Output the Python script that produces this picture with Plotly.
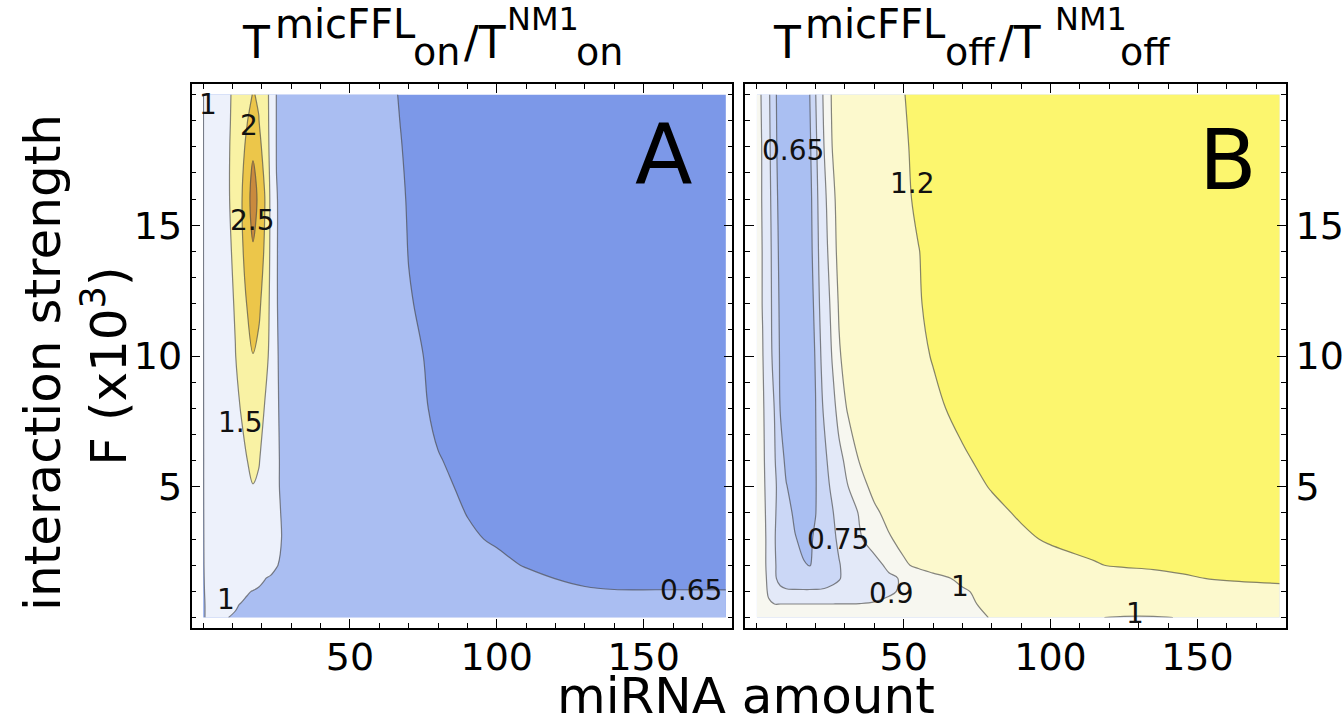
import plotly.graph_objects as go

# ---------------- Panel A: T_on(micFFL) / T_on(NM1) ----------------
mirna_on = [0, 2, 5, 8, 11, 13, 15, 17, 19, 21, 23, 25, 27, 30,
            45, 60, 70, 80, 90, 100, 110, 120, 130, 140, 155, 178]
strength_on = [0, 0.5, 1, 1.5, 2, 3, 4, 5, 6, 8, 10, 12, 14, 16, 18, 19, 20]
ratio_on = [
    [0.995, 1.01, 1.02, 1.003, 0.99, 0.98, 0.97, 0.96, 0.955, 0.95, 0.945, 0.94, 0.935, 0.93,
     0.9, 0.89, 0.88, 0.86, 0.84, 0.82, 0.8, 0.78, 0.76, 0.75, 0.74, 0.74],
    [0.99, 1.02, 1.03, 1.03, 1.01, 0.995, 0.98, 0.97, 0.96, 0.955, 0.95, 0.945, 0.94, 0.93,
     0.9, 0.88, 0.87, 0.85, 0.82, 0.8, 0.78, 0.75, 0.72, 0.71, 0.7, 0.7],
    [0.99, 1.03, 1.05, 1.06, 1.05, 1.03, 1.01, 0.995, 0.98, 0.97, 0.96, 0.95, 0.94, 0.93,
     0.9, 0.88, 0.86, 0.83, 0.8, 0.77, 0.74, 0.7, 0.662, 0.655, 0.655, 0.655],
    [0.99, 1.04, 1.07, 1.1, 1.12, 1.12, 1.1, 1.07, 1.04, 1.005, 0.98, 0.96, 0.95, 0.93,
     0.89, 0.87, 0.84, 0.81, 0.77, 0.73, 0.69, 0.648, 0.63, 0.62, 0.615, 0.61],
    [0.99, 1.05, 1.09, 1.13, 1.16, 1.18, 1.2, 1.2, 1.17, 1.12, 1.07, 1.01, 0.97, 0.94,
     0.89, 0.86, 0.83, 0.79, 0.74, 0.69, 0.64, 0.62, 0.61, 0.605, 0.6, 0.59],
    [0.99, 1.06, 1.11, 1.17, 1.22, 1.26, 1.3, 1.31, 1.28, 1.22, 1.13, 1.06, 0.99, 0.94,
     0.88, 0.84, 0.8, 0.75, 0.675, 0.63, 0.615, 0.605, 0.6, 0.595, 0.59, 0.58],
    [0.99, 1.07, 1.13, 1.2, 1.27, 1.32, 1.37, 1.4, 1.37, 1.29, 1.17, 1.05, 0.98, 0.93,
     0.87, 0.82, 0.77, 0.71, 0.645, 0.625, 0.61, 0.6, 0.59, 0.585, 0.58, 0.57],
    [0.99, 1.08, 1.15, 1.22, 1.3, 1.37, 1.44, 1.49, 1.45, 1.33, 1.19, 1.04, 0.96, 0.92,
     0.86, 0.8, 0.74, 0.68, 0.625, 0.61, 0.595, 0.585, 0.58, 0.575, 0.57, 0.56],
    [0.99, 1.08, 1.16, 1.24, 1.32, 1.4, 1.495, 1.58, 1.52, 1.38, 1.22, 1.04, 0.96, 0.92,
     0.85, 0.78, 0.72, 0.655, 0.625, 0.6, 0.585, 0.575, 0.57, 0.565, 0.56, 0.55],
    [0.99, 1.09, 1.18, 1.29, 1.41, 1.52, 1.65, 1.75, 1.68, 1.48, 1.3, 1.03, 0.95, 0.92,
     0.84, 0.76, 0.69, 0.63, 0.6, 0.585, 0.575, 0.565, 0.56, 0.555, 0.55, 0.54],
    [0.99, 1.1, 1.21, 1.33, 1.49, 1.65, 1.85, 1.99, 1.9, 1.68, 1.38, 1.02, 0.95, 0.92,
     0.83, 0.74, 0.67, 0.63, 0.6, 0.585, 0.575, 0.565, 0.56, 0.555, 0.55, 0.54],
    [0.99, 1.11, 1.23, 1.37, 1.53, 1.75, 2.02, 2.2, 2.08, 1.82, 1.4, 1.01, 0.95, 0.92,
     0.82, 0.72, 0.655, 0.625, 0.6, 0.585, 0.575, 0.565, 0.56, 0.555, 0.55, 0.54],
    [0.99, 1.12, 1.25, 1.4, 1.58, 1.9, 2.2, 2.45, 2.25, 1.95, 1.42, 1.01, 0.95, 0.92,
     0.81, 0.71, 0.648, 0.62, 0.6, 0.585, 0.575, 0.565, 0.56, 0.555, 0.55, 0.54],
    [0.99, 1.12, 1.26, 1.43, 1.63, 1.95, 2.3, 2.72, 2.4, 2.02, 1.42, 1.01, 0.95, 0.92,
     0.81, 0.695, 0.645, 0.62, 0.6, 0.585, 0.575, 0.565, 0.56, 0.555, 0.55, 0.54],
    [0.99, 1.12, 1.26, 1.43, 1.62, 1.85, 2.1, 2.42, 2.15, 1.8, 1.38, 0.99, 0.95, 0.92,
     0.8, 0.685, 0.64, 0.615, 0.595, 0.58, 0.57, 0.56, 0.555, 0.55, 0.545, 0.535],
    [0.99, 1.12, 1.25, 1.42, 1.6, 1.78, 1.98, 2.2, 2.01, 1.76, 1.37, 0.99, 0.95, 0.92,
     0.8, 0.68, 0.637, 0.612, 0.59, 0.575, 0.565, 0.555, 0.55, 0.545, 0.54, 0.53],
    [0.99, 1.12, 1.25, 1.42, 1.58, 1.7, 1.85, 2.02, 1.96, 1.75, 1.36, 0.99, 0.95, 0.92,
     0.8, 0.675, 0.635, 0.61, 0.59, 0.575, 0.565, 0.555, 0.55, 0.545, 0.54, 0.53],
]
levels_on = [0.65, 1, 1.5, 2, 2.5]
colors_on = ["#7c98e8", "#aabef2", "#edf1fb", "#f9f2a4", "#ecc64a", "#c98a3e"]

# ---------------- Panel B: T_off(micFFL) / T_off(NM1) ----------------
mirna_off = [0, 2, 4, 6, 8, 10, 13, 16, 18, 20, 22, 24, 26, 28, 31, 35,
             40, 45, 50, 55, 60, 70, 80, 90, 100, 115, 125, 135, 145, 160, 178]
strength_off = [0, 0.5, 1, 1.5, 2, 3, 4, 5, 6, 8, 10, 12, 14, 16, 18, 20]
ratio_off = [
    [0.95, 0.94, 0.93, 0.925, 0.925, 0.925, 0.925, 0.925, 0.925, 0.925, 0.925, 0.925, 0.925, 0.925, 0.925, 0.925,
     0.93, 0.935, 0.945, 0.955, 0.965, 0.985, 1.002, 1.008, 1.006, 1.001, 0.998, 0.998, 1.001, 1.01, 1.03],
    [0.95, 0.935, 0.91, 0.905, 0.905, 0.905, 0.905, 0.905, 0.905, 0.905, 0.905, 0.905, 0.905, 0.905, 0.905, 0.905,
     0.91, 0.925, 0.94, 0.955, 0.97, 0.99, 1.01, 1.02, 1.02, 1.02, 1.02, 1.02, 1.025, 1.03, 1.06],
    [0.95, 0.935, 0.89, 0.77, 0.765, 0.76, 0.76, 0.76, 0.76, 0.76, 0.76, 0.765, 0.77, 0.775, 0.8, 0.83,
     0.86, 0.885, 0.915, 0.94, 0.96, 0.99, 1.03, 1.06, 1.08, 1.1, 1.115, 1.13, 1.14, 1.155, 1.17],
    [0.95, 0.935, 0.88, 0.76, 0.73, 0.71, 0.695, 0.69, 0.69, 0.695, 0.705, 0.715, 0.73, 0.745, 0.775, 0.81,
     0.85, 0.885, 0.91, 0.94, 0.97, 1.02, 1.05, 1.08, 1.1, 1.13, 1.15, 1.17, 1.19, 1.21, 1.22],
    [0.95, 0.935, 0.87, 0.76, 0.72, 0.695, 0.67, 0.655, 0.648, 0.66, 0.68, 0.7, 0.72, 0.745, 0.78, 0.82,
     0.87, 0.92, 0.985, 1.02, 1.045, 1.08, 1.11, 1.14, 1.165, 1.195, 1.21, 1.215, 1.22, 1.225, 1.23],
    [0.95, 0.935, 0.87, 0.755, 0.72, 0.69, 0.655, 0.63, 0.64, 0.66, 0.685, 0.71, 0.735, 0.765, 0.82, 0.89,
     0.94, 0.99, 1.03, 1.06, 1.08, 1.12, 1.15, 1.185, 1.21, 1.225, 1.235, 1.245, 1.25, 1.255, 1.26],
    [0.95, 0.935, 0.86, 0.76, 0.72, 0.68, 0.635, 0.615, 0.62, 0.648, 0.68, 0.715, 0.748, 0.79, 0.84, 0.91,
     0.98, 1.03, 1.065, 1.085, 1.1, 1.14, 1.18, 1.21, 1.23, 1.245, 1.255, 1.265, 1.27, 1.275, 1.28],
    [0.95, 0.93, 0.85, 0.77, 0.71, 0.655, 0.615, 0.605, 0.615, 0.645, 0.69, 0.73, 0.78, 0.83, 0.898, 0.96,
     1.03, 1.065, 1.09, 1.11, 1.13, 1.17, 1.205, 1.23, 1.245, 1.26, 1.27, 1.28, 1.285, 1.29, 1.295],
    [0.95, 0.925, 0.84, 0.76, 0.69, 0.63, 0.6, 0.6, 0.615, 0.645, 0.7, 0.752, 0.81, 0.87, 0.93, 1.005,
     1.06, 1.09, 1.11, 1.13, 1.15, 1.19, 1.22, 1.24, 1.255, 1.27, 1.28, 1.29, 1.295, 1.3, 1.305],
    [0.95, 0.92, 0.82, 0.748, 0.645, 0.6, 0.585, 0.595, 0.61, 0.648, 0.73, 0.81, 0.87, 0.94, 1.01, 1.06,
     1.1, 1.125, 1.145, 1.16, 1.185, 1.22, 1.25, 1.27, 1.28, 1.295, 1.305, 1.31, 1.315, 1.32, 1.325],
    [0.95, 0.905, 0.805, 0.71, 0.64, 0.6, 0.585, 0.6, 0.615, 0.655, 0.76, 0.84, 0.92, 0.99, 1.04, 1.08,
     1.115, 1.14, 1.16, 1.185, 1.204, 1.235, 1.26, 1.28, 1.29, 1.305, 1.315, 1.32, 1.325, 1.33, 1.335],
    [0.95, 0.895, 0.8, 0.7, 0.635, 0.6, 0.59, 0.6, 0.615, 0.67, 0.79, 0.87, 0.94, 1.01, 1.05, 1.09,
     1.125, 1.15, 1.17, 1.195, 1.215, 1.245, 1.27, 1.29, 1.3, 1.31, 1.32, 1.325, 1.33, 1.335, 1.34],
    [0.95, 0.895, 0.8, 0.69, 0.63, 0.6, 0.59, 0.6, 0.62, 0.69, 0.81, 0.895, 0.965, 1.03, 1.07, 1.1,
     1.135, 1.16, 1.18, 1.198, 1.22, 1.255, 1.275, 1.295, 1.305, 1.315, 1.325, 1.33, 1.335, 1.34, 1.345],
    [0.95, 0.89, 0.79, 0.68, 0.625, 0.6, 0.59, 0.6, 0.625, 0.7, 0.83, 0.915, 0.98, 1.04, 1.075, 1.105,
     1.14, 1.165, 1.186, 1.212, 1.228, 1.26, 1.28, 1.295, 1.305, 1.315, 1.325, 1.33, 1.335, 1.34, 1.345],
    [0.95, 0.89, 0.78, 0.67, 0.62, 0.6, 0.59, 0.6, 0.635, 0.72, 0.86, 0.95, 1.01, 1.05, 1.085, 1.115,
     1.145, 1.17, 1.192, 1.215, 1.235, 1.265, 1.285, 1.3, 1.31, 1.32, 1.33, 1.33, 1.34, 1.34, 1.35],
    [0.95, 0.88, 0.77, 0.665, 0.62, 0.6, 0.59, 0.61, 0.648, 0.745, 0.88, 0.96, 1.02, 1.06, 1.09, 1.12,
     1.15, 1.175, 1.198, 1.22, 1.24, 1.27, 1.29, 1.3, 1.31, 1.32, 1.33, 1.33, 1.34, 1.34, 1.35],
]
levels_off = [0.65, 0.75, 0.9, 1, 1.2]
colors_off = ["#aabff2", "#cbd7f6", "#e3e9f8", "#f7f7f0", "#fcf9cd", "#fcf66e"]

# contour labels: (text, miRNA, strength)
labels_on = [("1", 1.8, 19.6), ("2", 15.6, 18.8), ("2.5", 16.8, 15.2),
             ("1.5", 12.6, 7.45), ("1", 7.7, 0.7), ("0.65", 166, 1.04)]
labels_off = [("0.65", 12.3, 17.85), ("1.2", 53, 16.6), ("0.75", 27.5, 3.0),
              ("0.9", 45.7, 0.92), ("1", 69.3, 1.18), ("1", 128.9, 0.15)]

FONT = "DejaVu Sans"
W, H = 1344, 726
LINE = "rgba(70,70,70,0.65)"


def banded_traces(x, y, z, levels, colors, xa, ya):
    """Stack of constraint contours: one filled band per level, then the level lines."""
    traces = []
    lowest = min(min(r) for r in z) - 1
    for value, color in zip([lowest] + levels, colors):
        traces.append(go.Contour(
            x=x, y=y, z=z, xaxis=xa, yaxis=ya, showscale=False, hoverinfo="skip",
            contours=dict(type="constraint", operation="<", value=value),
            fillcolor=color, line=dict(width=0)))
    for value in levels:
        traces.append(go.Contour(
            x=x, y=y, z=z, xaxis=xa, yaxis=ya, showscale=False, hoverinfo="skip",
            contours=dict(type="constraint", operation="<", value=value),
            fillcolor="rgba(0,0,0,0)", line=dict(width=1.2, color=LINE)))
    return traces


fig = go.Figure()
for t in banded_traces(mirna_on, strength_on, ratio_on, levels_on, colors_on, "x", "y"):
    fig.add_trace(t)
for t in banded_traces(mirna_off, strength_off, ratio_off, levels_off, colors_off, "x2", "y2"):
    fig.add_trace(t)


def px(xp, yp):
    return xp / W, 1 - yp / H


ax_common = dict(
    showgrid=False, zeroline=False, showline=True, linecolor="black",
    linewidth=1.5, mirror="allticks", ticks="inside", ticklen=9, tickwidth=1.2,
    tickcolor="black", tickfont=dict(family=FONT, size=38, color="black"),
)
xa_ticks = dict(tickmode="array", tickvals=[50, 100, 150], ticktext=["50", "100", "150"],
                ticklabelstandoff=-5,
                minor=dict(tickmode="linear", tick0=0, dtick=10, ticks="inside", ticklen=5,
                           tickcolor="black", tickwidth=1))
ya_ticks = dict(tickmode="array", tickvals=[5, 10, 15], ticktext=["5", "10", "15"],
                minor=dict(tickmode="linear", tick0=0, dtick=1, ticks="inside", ticklen=5,
                           tickcolor="black", tickwidth=1))

y_dom = [1 - 628 / H, 1 - 84 / H]
fig.update_layout(
    width=W, height=H, margin=dict(l=0, r=0, t=0, b=0),
    paper_bgcolor="white", plot_bgcolor="white", showlegend=False,
    font=dict(family=FONT, color="black"),
    xaxis=dict(**ax_common, **xa_ticks, domain=[192 / W, 734 / W], anchor="y"),
    yaxis=dict(**ax_common, **ya_ticks, domain=y_dom, anchor="x", side="left"),
    xaxis2=dict(**ax_common, **xa_ticks, domain=[747 / W, 1289 / W], anchor="y2"),
    yaxis2=dict(**ax_common, **ya_ticks, domain=y_dom, anchor="x2", side="right"),
)
fig.update_xaxes(range=[-3.9, 180.2])
fig.update_yaxes(range=[-0.4, 20.4])

ann = []


def text_at(text, xp, yp, size, xanchor="center", yanchor="middle", angle=0):
    xx, yy = px(xp, yp)
    ann.append(dict(text=text, x=xx, y=yy, xref="paper", yref="paper", showarrow=False,
                    xanchor=xanchor, yanchor=yanchor, textangle=angle, borderpad=0,
                    font=dict(family=FONT, size=size, color="black")))


for text, xv, yv in labels_on:
    ann.append(dict(text=text, x=xv, y=yv, xref="x", yref="y", showarrow=False,
                    xanchor="center", yanchor="middle",
                    font=dict(family=FONT, size=28, color="#111111")))
for text, xv, yv in labels_off:
    ann.append(dict(text=text, x=xv, y=yv, xref="x2", yref="y2", showarrow=False,
                    xanchor="center", yanchor="middle",
                    font=dict(family=FONT, size=28, color="#111111")))
ann.append(dict(text="A", x=156.6, y=17.7, xref="x", yref="y", showarrow=False,
                xanchor="center", yanchor="middle",
                font=dict(family=FONT, size=84, color="black")))
ann.append(dict(text="B", x=160.3, y=17.5, xref="x2", yref="y2", showarrow=False,
                xanchor="center", yanchor="middle",
                font=dict(family=FONT, size=84, color="black")))

# panel titles, built piece by piece: main letter, superscript, subscript
title_pieces = [
    ("T", 44, 242, 42), ("micFFL", 40, 275, 23.5), ("on", 38, 413, 52),
    ("/T", 44, 464, 42), ("NM1", 32, 507, 19), ("on", 38, 576, 52),
    ("T", 44, 774, 42), ("micFFL", 40, 806, 23.5), ("off", 38, 946, 52),
    ("/T", 44, 1000, 42), ("NM1", 32, 1056, 19), ("off", 38, 1122, 52),
]
for text, size, xp, yp in title_pieces:
    text_at(text, xp, yp, size, xanchor="left")

text_at("miRNA amount", 748, 726, 50, yanchor="bottom")
text_at("interaction strength", 43, 362, 50, angle=-90)
text_at("F (x10<sup>3</sup>)", 105, 366, 50, angle=-90)
fig.update_layout(annotations=ann)

fig.write_html("out.html")
